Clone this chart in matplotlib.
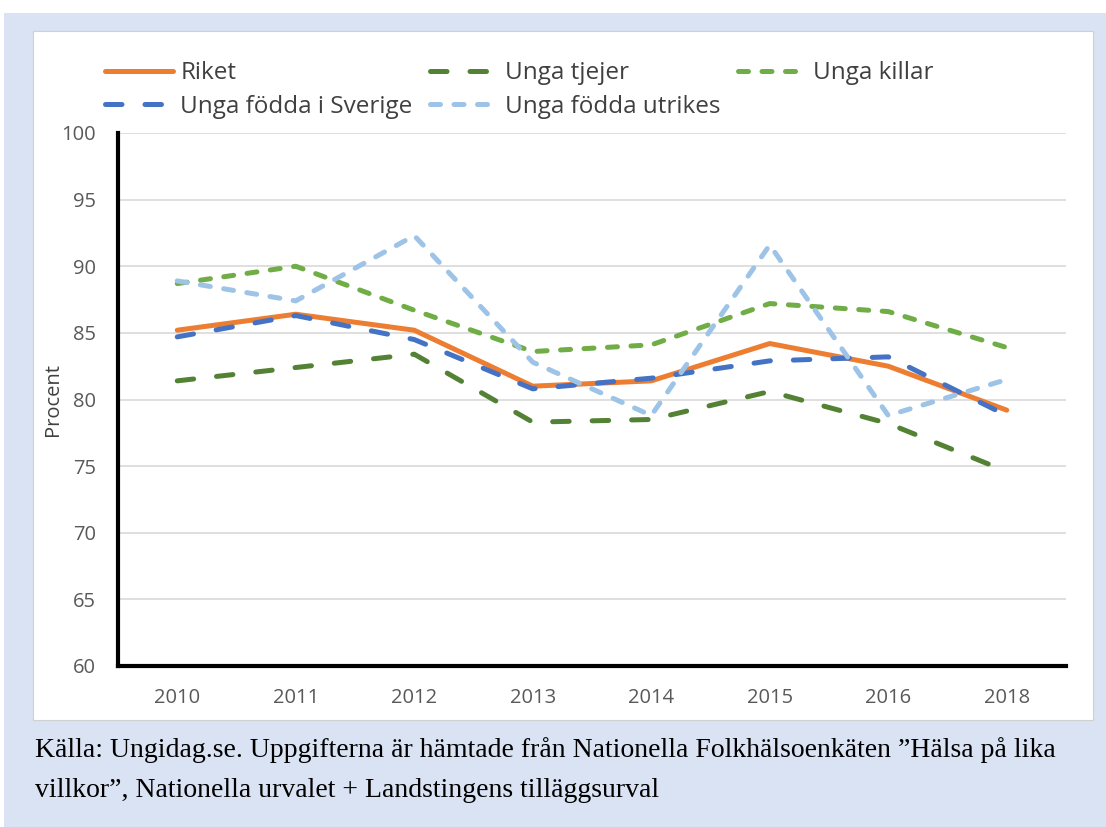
import matplotlib.pyplot as plt
from matplotlib.patches import Rectangle

# Data
years = ['2010', '2011', '2012', '2013', '2014', '2015', '2016', '2018']
riket = [85.2, 86.4, 85.2, 81.0, 81.4, 84.2, 82.5, 79.2]
unga_tjejer = [81.4, 82.4, 83.4, 78.3, 78.5, 80.6, 78.2, 74.6]
unga_killar = [88.7, 90.0, 86.7, 83.6, 84.1, 87.2, 86.6, 83.9]
fodda_sverige = [84.7, 86.3, 84.5, 80.8, 81.6, 82.9, 83.2, 78.8]
fodda_utrikes = [88.9, 87.4, 92.3, 82.8, 78.8, 91.6, 78.8, 81.5]

W, H = 1106, 827
fig = plt.figure(figsize=(W / 100, H / 100), dpi=100, facecolor='white')

# bakgrund: ljusblå ram och vit diagramyta
fig.patches.append(Rectangle((4 / W, 0), 1 - 4 / W, 1 - 13 / H, transform=fig.transFigure,
                             facecolor='#dae3f3', edgecolor='none', zorder=-10))
fig.patches.append(Rectangle((33 / W, 1 - 720 / H), (1093 - 33) / W, (720 - 31) / H,
                             transform=fig.transFigure, facecolor='white',
                             edgecolor='#d0d0d0', linewidth=0.8, zorder=-9))

ax = fig.add_axes([118 / W, 1 - 666 / H, (1066 - 118) / W, (666 - 133) / H])
ax.set_facecolor('white')

x = range(len(years))
lw = 3.6
long_dash = (3.3, 4.6)
short_dash = (2.0, 2.7)

ax.plot(x, riket, color='#ED7D31', lw=lw, solid_capstyle='round', label='Riket')
ax.plot(x, unga_tjejer, color='#548235', lw=lw, linestyle=(0, long_dash),
        dash_capstyle='round', label='Unga tjejer')
ax.plot(x, unga_killar, color='#70AD47', lw=lw, linestyle=(0, short_dash),
        dash_capstyle='round', label='Unga killar')
ax.plot(x, fodda_sverige, color='#4472C4', lw=lw, linestyle=(0, long_dash),
        dash_capstyle='round', label='Unga födda i Sverige')
ax.plot(x, fodda_utrikes, color='#9DC3E6', lw=lw, linestyle=(0, short_dash),
        dash_capstyle='round', label='Unga födda utrikes')

ax.set_xlim(-0.5, len(years) - 0.5)
ax.set_ylim(60, 100)
ax.set_yticks(range(60, 101, 5))
ax.set_xticks(list(x))
ax.set_xticklabels(years)

font = 'Open Sans'
ax.tick_params(length=0, labelsize=14.5, labelcolor='#595959')
ax.tick_params(axis='x', pad=16)
ax.tick_params(axis='y', pad=16)
for lab in ax.get_xticklabels() + ax.get_yticklabels():
    lab.set_fontfamily(font)

ax.set_ylabel('Procent', fontsize=14.5, color='#404040', fontfamily=font, labelpad=-1)

ax.grid(axis='y', color='#d9d9d9', linewidth=1.2)
ax.set_axisbelow(True)
for s in ['top', 'right']:
    ax.spines[s].set_visible(False)
for s in ['left', 'bottom']:
    ax.spines[s].set_linewidth(3)
    ax.spines[s].set_color('black')

# legend radvis: Riket, Unga tjejer, Unga killar / Sverige, utrikes
h, l = ax.get_legend_handles_labels()
order = [0, 3, 1, 4, 2]
leg = fig.legend([h[i] for i in order], [l[i] for i in order], ncol=3,
                 loc='upper left', bbox_to_anchor=(93 / W, 1 - 49 / H),
                 frameon=False, borderpad=0, handlelength=2.8, handletextpad=0.3,
                 columnspacing=0.7, labelspacing=0.4,
                 prop={'family': font, 'size': 17.5})
for t in leg.get_texts():
    t.set_color('#404040')

# källa
cap = dict(fontsize=20, fontfamily='Liberation Serif', color='black', va='baseline')
fig.text(35 / W, 1 - 757 / H,
         'Källa: Ungidag.se. Uppgifterna är hämtade från Nationella Folkhälsoenkäten \u201dHälsa på lika', **cap)
fig.text(35 / W, 1 - 797 / H,
         'villkor\u201d, Nationella urvalet + Landstingens tilläggsurval', **cap)

fig.savefig('out.png', dpi=100, facecolor=fig.get_facecolor())
